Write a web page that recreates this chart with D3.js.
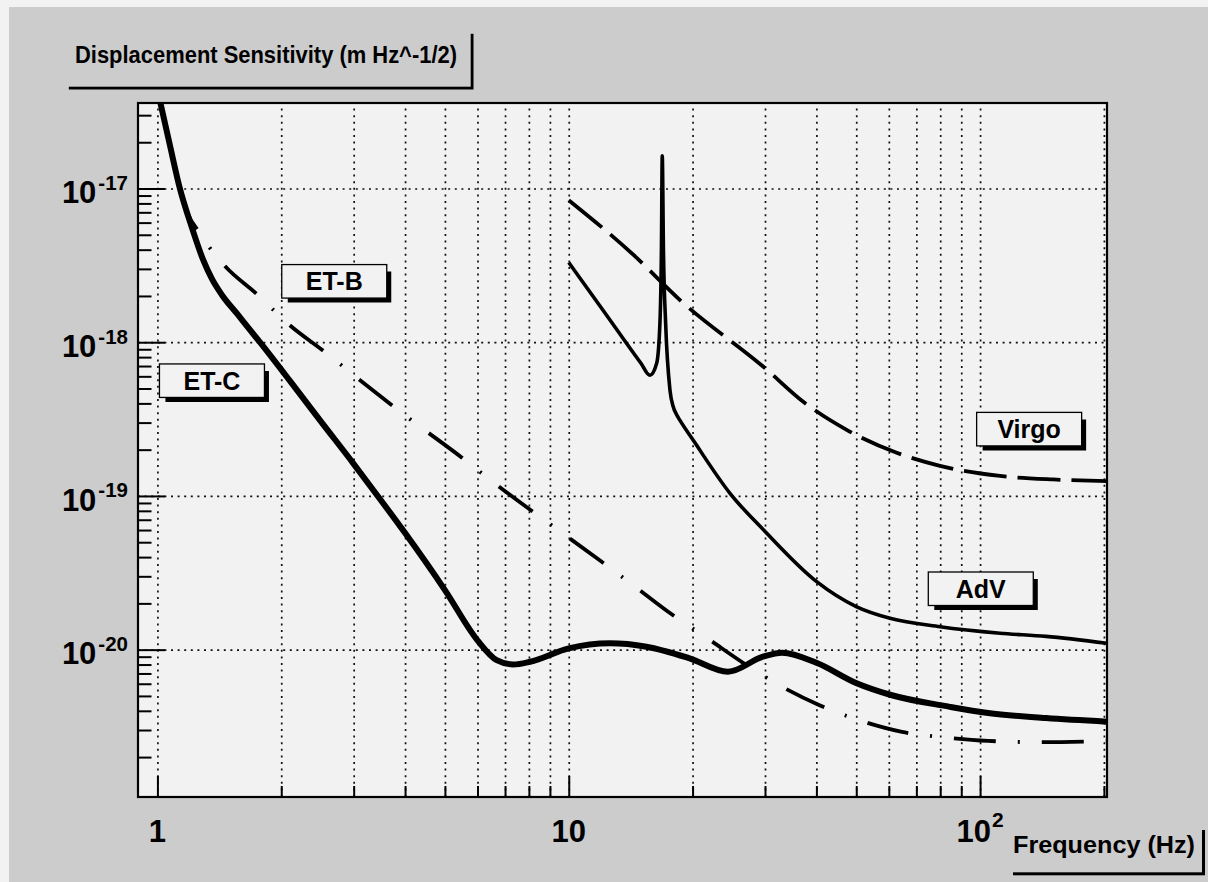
<!DOCTYPE html>
<html>
<head>
<meta charset="utf-8">
<script src="https://cdn.jsdelivr.net/npm/d3@7"></script>
<style>
html, body { margin: 0; padding: 0; background: #f2f2f2; }
svg { display: block; }
text { font-family: "Liberation Sans", Arial, Helvetica, sans-serif; font-weight: bold; fill: #000; }
</style>
</head>
<body>
<svg id="chart" width="1208" height="882"></svg>
<script>
// ---------------- data ----------------
const etcFreq  = [1.0, 1.072, 1.134, 1.211, 1.292, 1.357, 1.435, 1.569, 1.775, 2.10, 2.507, 2.993, 3.432, 4.005, 5.00, 6.00, 6.68, 7.33, 8.05, 10.0, 12.6, 15.45, 19.6, 24.38, 29.67, 33.0, 40.13, 49.93, 60.73, 84.0, 104.5, 144.6, 203.5];
const etcValue = [4.4e-17, 1.92e-17, 1.0e-17, 5.64e-18, 3.43e-18, 2.58e-18, 2.03e-18, 1.51e-18, 1.0e-18, 5.6e-19, 3.01e-19, 1.63e-19, 1.0e-19, 5.71e-20, 2.44e-20, 1.15e-20, 8.55e-21, 8.01e-21, 8.34e-21, 1.02e-20, 1.10e-20, 1.045e-20, 8.81e-21, 7.18e-21, 9.0e-21, 9.55e-21, 8.18e-21, 6.07e-21, 5.07e-21, 4.26e-21, 3.87e-21, 3.59e-21, 3.40e-21];

const etbFreq  = [1.0, 1.072, 1.134, 1.186, 1.269, 1.342, 1.459, 1.743, 2.112, 2.526, 3.090, 4.111, 5.491, 6.741, 9.00, 11.96, 14.63, 17.62, 21.88, 26.59, 33.0, 40.58, 52.12, 64.58, 84.0, 104.5, 139.9, 203.5];
const etbValue = [4.4e-17, 1.92e-17, 1.0e-17, 6.83e-18, 5.13e-18, 4.10e-18, 3.13e-18, 2.06e-18, 1.27e-18, 8.83e-19, 5.74e-19, 3.16e-19, 1.78e-19, 1.16e-19, 6.56e-20, 3.77e-20, 2.52e-20, 1.73e-20, 1.17e-20, 8.18e-21, 5.74e-21, 4.37e-21, 3.40e-21, 2.92e-21, 2.67e-21, 2.55e-21, 2.50e-21, 2.54e-21];

const advFreq  = [10.0, 12.25, 14.98, 15.75, 16.36, 16.66, 16.80, 16.88, 16.99, 17.20, 17.62, 17.95, 18.28, 18.64, 20.08, 24.66, 30.05, 40.06, 50.12, 60.39, 79.9, 111.8, 144.6, 203.5];
const advValue = [3.3e-18, 1.55e-18, 7.3e-19, 6.1e-19, 7.3e-19, 1.33e-18, 4.0e-18, 1.63e-17, 4.0e-18, 1.33e-18, 4.9e-19, 3.8e-19, 3.39e-19, 3.1e-19, 2.3e-19, 1.04e-19, 5.85e-20, 2.77e-20, 1.9e-20, 1.6e-20, 1.41e-20, 1.28e-20, 1.22e-20, 1.1e-20];

const virgoFreq  = [10.0, 14.35, 18.64, 30.05, 37.17, 47.39, 62.69, 79.9, 111.8, 150.4, 203.5];
const virgoValue = [8.4e-18, 3.71e-18, 1.88e-18, 6.76e-19, 4.1e-19, 2.69e-19, 1.91e-19, 1.57e-19, 1.35e-19, 1.28e-19, 1.25e-19];

const labelNames = ["ET-C", "ET-B", "Virgo", "AdV"];
const labelFreq  = [1.357, 2.691, 131.6, 100.4];
const labelValue = [5.62e-19, 2.49e-18, 2.72e-19, 2.49e-20];

const xMajorTicks = [1, 10, 100];
const xTickBase   = ["1", "10", "10"];
const xTickExp    = ["", "", "2"];
const xMinorTicks = [2, 3, 4, 5, 6, 7, 8, 9, 20, 30, 40, 50, 60, 70, 80, 90, 200];

const yMajorTicks = [1e-20, 1e-19, 1e-18, 1e-17];
const yTickBase   = ["10", "10", "10", "10"];
const yTickExp    = ["-20", "-19", "-18", "-17"];
const yMinorTicks = [2e-21, 3e-21, 4e-21, 5e-21, 6e-21, 7e-21, 8e-21, 9e-21,
                     2e-20, 3e-20, 4e-20, 5e-20, 6e-20, 7e-20, 8e-20, 9e-20,
                     2e-19, 3e-19, 4e-19, 5e-19, 6e-19, 7e-19, 8e-19, 9e-19,
                     2e-18, 3e-18, 4e-18, 5e-18, 6e-18, 7e-18, 8e-18, 9e-18,
                     2e-17, 3e-17];

const xDomain = [0.897, 203.5];
const yDomain = [1.1e-21, 3.6e-17];
const yTitle = "Displacement Sensitivity (m Hz^-1/2)";
const xTitle = "Frequency (Hz)";

// ---------------- layout ----------------
const W = 1208, H = 882;
const P = { l: 138, r: 1107, t: 103, b: 797 };

const svg = d3.select("#chart");
svg.append("rect").attr("width", W).attr("height", H).attr("fill", "#f2f2f2");
svg.append("rect").attr("x", 9).attr("y", 7).attr("width", W - 9).attr("height", H - 7).attr("fill", "#cccccc");

const x = d3.scaleLog().domain(xDomain).range([P.l, P.r]);
const y = d3.scaleLog().domain(yDomain).range([P.b, P.t]);

// plot background
svg.append("rect").attr("x", P.l).attr("y", P.t).attr("width", P.r - P.l).attr("height", P.b - P.t).attr("fill", "#f2f2f2");

// grid (dotted)
const gridX = svg.append("g").attr("transform", `translate(0,${P.b})`)
  .call(d3.axisBottom(x).tickValues(xMajorTicks.concat(xMinorTicks)).tickSize(-(P.b - P.t)).tickFormat(""));
const gridY = svg.append("g").attr("transform", `translate(${P.l},0)`)
  .call(d3.axisLeft(y).tickValues(yMajorTicks).tickSize(-(P.r - P.l)).tickFormat(""));
[gridX, gridY].forEach(g => {
  g.select(".domain").remove();
  g.selectAll("line").attr("stroke", "#111").attr("stroke-width", 1.7).attr("stroke-dasharray", "2,4.6");
});

// clip
svg.append("clipPath").attr("id", "clip").append("rect")
  .attr("x", P.l).attr("y", P.t).attr("width", P.r - P.l).attr("height", P.b - P.t);

const line = d3.line().x(d => x(d[0])).y(d => y(d[1])).curve(d3.curveMonotoneX);
const curves = svg.append("g").attr("clip-path", "url(#clip)");

const etbPath = curves.append("path").datum(d3.zip(etbFreq, etbValue)).attr("d", line)
  .attr("fill", "none").attr("stroke", "#000").attr("stroke-width", 3.8)
  .attr("stroke-dasharray", "42,22,2,22");
// align the dash pattern so that a dash begins where ET-B leaves ET-C
{
  const node = etbPath.node();
  const target = x(1.459);
  let lo = 0, hi = node.getTotalLength();
  while (hi - lo > 0.5) { const m = (lo + hi) / 2; if (node.getPointAtLength(m).x < target) lo = m; else hi = m; }
  const period = 88;
  etbPath.attr("stroke-dashoffset", ((-lo % period) + period) % period);
}

curves.append("path").datum(d3.zip(virgoFreq, virgoValue)).attr("d", line)
  .attr("fill", "none").attr("stroke", "#000").attr("stroke-width", 3.8)
  .attr("stroke-dasharray", "43,11");

curves.append("path").datum(d3.zip(advFreq, advValue)).attr("d", line)
  .attr("fill", "none").attr("stroke", "#000").attr("stroke-width", 3.6)
  .attr("stroke-linejoin", "round");

curves.append("path").datum(d3.zip(etcFreq, etcValue)).attr("d", line)
  .attr("fill", "none").attr("stroke", "#000").attr("stroke-width", 6)
  .attr("stroke-linejoin", "round");

// ticks
function styleTicks(g) {
  g.select(".domain").remove();
  g.selectAll("line").attr("stroke", "#000").attr("stroke-width", 2);
  g.selectAll("text").remove();
}
svg.append("g").attr("transform", `translate(0,${P.b})`)
  .call(d3.axisBottom(x).tickValues(xMajorTicks).tickSize(-21).tickFormat("")).call(styleTicks);
svg.append("g").attr("transform", `translate(0,${P.b})`)
  .call(d3.axisBottom(x).tickValues(xMinorTicks).tickSize(-11).tickFormat("")).call(styleTicks);
svg.append("g").attr("transform", `translate(${P.l},0)`)
  .call(d3.axisLeft(y).tickValues(yMajorTicks).tickSize(-27).tickFormat("")).call(styleTicks);
svg.append("g").attr("transform", `translate(${P.l},0)`)
  .call(d3.axisLeft(y).tickValues(yMinorTicks).tickSize(-13.5).tickFormat("")).call(styleTicks);

// frame
svg.append("rect").attr("x", P.l).attr("y", P.t).attr("width", P.r - P.l).attr("height", P.b - P.t)
  .attr("fill", "none").attr("stroke", "#000").attr("stroke-width", 2.2);

// tick labels
xMajorTicks.forEach((v, i) => {
  const t = svg.append("text").attr("x", x(v)).attr("y", P.b + 44.7)
    .attr("text-anchor", "middle").attr("font-size", 31);
  t.append("tspan").text(xTickBase[i]);
  if (xTickExp[i]) t.append("tspan").attr("font-size", 21).attr("dy", -14.7).attr("dx", 1).text(xTickExp[i]);
});
yMajorTicks.forEach((v, i) => {
  const t = svg.append("text").attr("x", 128).attr("y", y(v) + 14.8)
    .attr("text-anchor", "end").attr("font-size", 31);
  t.append("tspan").text(yTickBase[i]);
  t.append("tspan").attr("font-size", 20.5).attr("dy", -13.5).attr("dx", 2).text(yTickExp[i]);
});

// curve labels (boxes with shadow)
const bw = 105, bh = 33.5;
labelNames.forEach((name, i) => {
  const cx = x(labelFreq[i]), cy = y(labelValue[i]);
  const x0 = cx - bw / 2, y0 = cy - bh / 2, x1 = cx + bw / 2, y1 = cy + bh / 2;
  svg.append("path")
    .attr("d", `M${x0 + 6},${y1} L${x1},${y1} L${x1},${y0 + 7} L${x1 + 4.5},${y0 + 7} L${x1 + 4.5},${y1 + 4.5} L${x0 + 6},${y1 + 4.5} Z`)
    .attr("fill", "#000");
  svg.append("rect").attr("x", x0).attr("y", y0).attr("width", bw).attr("height", bh)
    .attr("fill", "#f2f2f2").attr("stroke", "#000").attr("stroke-width", 1.3);
  svg.append("text").attr("x", cx).attr("y", cy + 9).attr("text-anchor", "middle")
    .attr("font-size", 25).text(name);
});

// axis title paves
function pave(x0, y0, x1, y1, sh) {
  svg.append("rect").attr("x", x0 + sh).attr("y", y0 + sh).attr("width", x1 - x0).attr("height", y1 - y0).attr("fill", "#000");
  svg.append("rect").attr("x", x0).attr("y", y0).attr("width", x1 - x0).attr("height", y1 - y0).attr("fill", "#cccccc");
}
pave(66, 31, 470.7, 86.7, 2.8);
svg.append("text").attr("x", 75).attr("y", 63).attr("font-size", 23)
  .attr("textLength", 382).attr("lengthAdjust", "spacingAndGlyphs").text(yTitle);

pave(1010, 827, 1202, 872.3, 3);
svg.append("text").attr("x", 1013).attr("y", 853).attr("font-size", 23)
  .attr("textLength", 182).attr("lengthAdjust", "spacingAndGlyphs").text(xTitle);
</script>
</body>
</html>
